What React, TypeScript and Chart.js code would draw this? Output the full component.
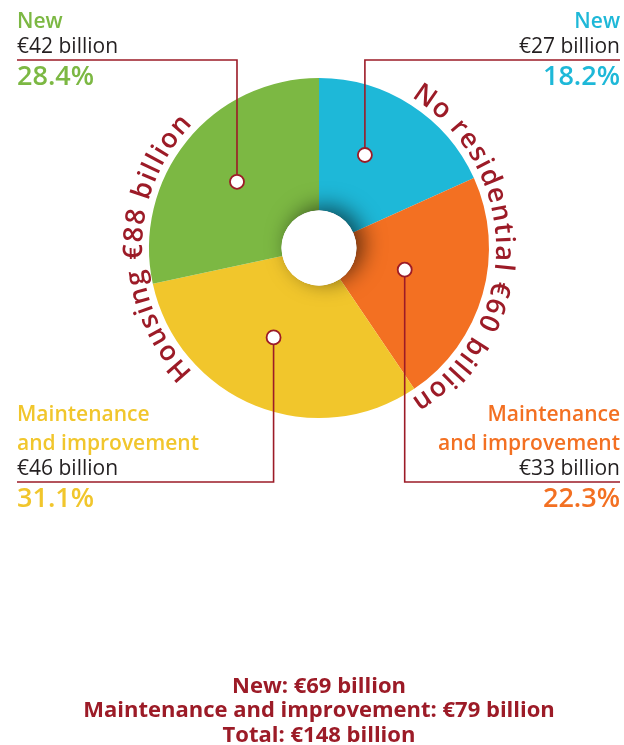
import React, { useEffect, useRef } from "react";
import { Chart, registerables } from "chart.js";

Chart.register(...registerables);

// ---- data ----
const categories = ["New (non-residential)", "Maintenance and improvement (non-residential)", "Maintenance and improvement (housing)", "New (housing)"];
const values = [27, 33, 46, 42]; // € billion
const percentLabels = ["18.2%", "22.3%", "31.1%", "28.4%"];
const valueLabels = ["€27 billion", "€33 billion", "€46 billion", "€42 billion"];
const titleLines = [["New"], ["Maintenance", "and improvement"], ["Maintenance", "and improvement"], ["New"]];
const groupLabels = ["No residential €60 billion", "Housing €88 billion"];
const footerLines = ["New: €69 billion", "Maintenance and improvement: €79 billion", "Total: €148 billion"];

// ---- style ----
const colors = ["#1eb8d8", "#f37022", "#f1c62c", "#7cb843"];
const DARK_RED = "#9c1b27";
const TEXT = "#231f20";
const FONT = "'Open Sans', 'Noto Sans', sans-serif";
const W = 624;
const H = 745;

// label layout: side, vertical position of leader, where the dot sits (fraction of slice angle, fraction of radius)
const labelLayout = [
  { side: "right", pos: "top", t: 0.4, r: 0.61 },
  { side: "right", pos: "bottom", t: 0.48, r: 0.52 },
  { side: "left", pos: "bottom", t: 0.545, r: 0.59 },
  { side: "left", pos: "top", t: 0.5, r: 0.62 },
];

const overlayPlugin = {
  id: "overlay",
  afterDatasetsDraw(chart: any) {
    const ctx = chart.ctx;
    const meta = chart.getDatasetMeta(0);
    const arc0 = meta.data[0];
    const { x: cx, y: cy, innerRadius, outerRadius } = arc0.getProps(["x", "y", "innerRadius", "outerRadius"], true);
    // inner shadow around hole
    ctx.save();
    ctx.beginPath();
    ctx.arc(cx, cy, outerRadius, 0, Math.PI * 2);
    ctx.clip();
    ctx.beginPath();
    ctx.arc(cx, cy, innerRadius, 0, Math.PI * 2);
    ctx.fillStyle = "#ffffff";
    ctx.shadowColor = "rgba(0,0,0,0.6)";
    ctx.shadowBlur = 22;
    ctx.shadowOffsetX = 7;
    ctx.shadowOffsetY = -4;
    ctx.fill();
    ctx.restore();
    ctx.save();
    ctx.beginPath();
    ctx.arc(cx, cy, innerRadius, 0, Math.PI * 2);
    ctx.fillStyle = "#ffffff";
    ctx.fill();
    ctx.restore();
  },
  afterDraw(chart: any) {
    const ctx = chart.ctx;
    const meta = chart.getDatasetMeta(0);
    const first = meta.data[0].getProps(["x", "y", "outerRadius"], true);
    const cx = first.x;
    const cy = first.y;
    const R = first.outerRadius;
    const topLineY = 60;
    const bottomLineY = 482;
    const leftX = 17;
    const rightX = 620;

    // leaders and labels
    meta.data.forEach((arc: any, i: number) => {
      const p = arc.getProps(["startAngle", "endAngle"], true);
      const L = labelLayout[i];
      const a = p.startAngle + (p.endAngle - p.startAngle) * L.t;
      const dx = cx + Math.cos(a) * R * L.r;
      const dy = cy + Math.sin(a) * R * L.r;
      const lineY = L.pos === "top" ? topLineY : bottomLineY;
      const endX = L.side === "left" ? leftX : rightX;
      ctx.save();
      ctx.strokeStyle = DARK_RED;
      ctx.lineWidth = 1.6;
      ctx.beginPath();
      ctx.moveTo(dx, dy);
      ctx.lineTo(dx, lineY);
      ctx.lineTo(endX, lineY);
      ctx.stroke();
      ctx.beginPath();
      ctx.arc(dx, dy, 7, 0, Math.PI * 2);
      ctx.fillStyle = "#ffffff";
      ctx.fill();
      ctx.lineWidth = 1.8;
      ctx.stroke();

      ctx.textAlign = L.side === "left" ? "left" : "right";
      ctx.textBaseline = "alphabetic";
      const valueY = lineY - 7.5;
      ctx.fillStyle = TEXT;
      ctx.font = `400 21px ${FONT}`;
      ctx.fillText(valueLabels[i], endX, valueY);
      ctx.fillStyle = colors[i];
      ctx.font = `600 21px ${FONT}`;
      const lines = titleLines[i];
      lines.forEach((t, k) => {
        const y = valueY - 25 - (lines.length - 1 - k) * 29;
        ctx.fillText(t, endX, y);
      });
      ctx.font = `600 27px ${FONT}`;
      ctx.fillText(percentLabels[i], endX, lineY + 25);
      ctx.restore();
    });

    // curved group labels
    const drawArcText = (text: string, centerAngle: number, radius: number, spacing: number) => {
      ctx.save();
      ctx.font = `600 27px ${FONT}`;
      ctx.fillStyle = DARK_RED;
      ctx.textAlign = "center";
      ctx.textBaseline = "alphabetic";
      const chars = Array.from(text);
      const widths = chars.map((c) => ctx.measureText(c).width + spacing);
      const total = widths.reduce((s, w) => s + w, 0) - spacing;
      let ang = centerAngle - total / 2 / radius;
      chars.forEach((c, k) => {
        const w = widths[k] - spacing;
        const mid = ang + w / 2 / radius;
        ctx.save();
        ctx.translate(cx + Math.cos(mid) * radius, cy + Math.sin(mid) * radius);
        ctx.rotate(mid + Math.PI / 2);
        ctx.fillText(c, 0, 0);
        ctx.restore();
        ang += widths[k] / radius;
      });
      ctx.restore();
    };
    drawArcText(groupLabels[0], 0, R + 7, 1.5);
    drawArcText(groupLabels[1], Math.PI, R + 7, 1.5);

    // footer
    ctx.save();
    ctx.fillStyle = DARK_RED;
    ctx.font = `700 22px ${FONT}`;
    ctx.textAlign = "center";
    ctx.textBaseline = "alphabetic";
    const fy = [693, 717, 742];
    footerLines.forEach((t, k) => ctx.fillText(t, cx, fy[k]));
    ctx.restore();
  },
};

export default function App() {
  const ref = useRef<HTMLCanvasElement | null>(null);
  useEffect(() => {
    document.body.style.margin = "0";
    const canvas = ref.current;
    if (!canvas) return;
    const chart = new Chart(canvas, {
      type: "doughnut",
      data: {
        labels: categories,
        datasets: [
          {
            data: values,
            backgroundColor: colors,
            borderWidth: 0,
          },
        ],
      },
      options: {
        responsive: false,
        animation: false,
        cutout: "22%",
        layout: { padding: { left: 149, right: 135, top: 78, bottom: 327 } },
        plugins: { legend: { display: false }, tooltip: { enabled: false } },
      },
      plugins: [overlayPlugin],
    });
    return () => chart.destroy();
  }, []);
  return (
    <div style={{ position: "absolute", left: 0, top: 0, width: W, height: H, background: "#fff" }}>
      <canvas ref={ref} width={W} height={H} style={{ width: W, height: H, display: "block" }} />
    </div>
  );
}
